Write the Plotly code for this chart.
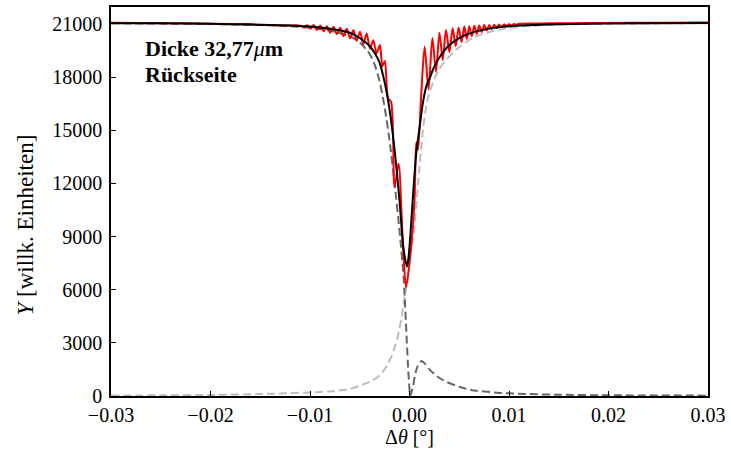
import plotly.graph_objects as go

# ---------------- data ----------------
red_x = [-0.030, -0.025, -0.020, -0.016, -0.014, -0.0125,
         -0.01093, -0.01061, -0.01028, -0.00996, -0.00963, -0.0093, -0.00896, -0.00864,
         -0.00831, -0.00797, -0.00764, -0.00731, -0.00697, -0.00664, -0.00631, -0.00597,
         -0.00564, -0.00531, -0.00497, -0.00464, -0.00431, -0.00397, -0.00364, -0.00331,
         -0.00297, -0.00273, -0.00248, -0.00215, -0.00185, -0.0015, -0.0011, -0.0007, -0.00035,
         0.0000, 0.0005, 0.00068, 0.00085, 0.00115,
         0.00152, 0.00191, 0.0023, 0.00266, 0.00301, 0.00334, 0.00367, 0.00401, 0.00434,
         0.00464, 0.00494, 0.00523, 0.00551, 0.00576, 0.00601, 0.00626, 0.00651, 0.00676,
         0.00701, 0.00726, 0.00751, 0.00776, 0.00801, 0.00826, 0.00851, 0.00876, 0.0090,
         0.00925, 0.0095, 0.00975, 0.0100, 0.01025, 0.0105, 0.01075, 0.0110,
         0.013, 0.016, 0.020, 0.025, 0.030]
red_y = [21060, 21040, 21010, 20970, 20930, 20900,
         20900, 20800, 20920, 20720, 20930, 20650, 20900, 20580,
         20870, 20500, 20830, 20420, 20780, 20300, 20720, 20180,
         20650, 20050, 20560, 19850, 20460, 19600, 20080, 19330,
         19800, 18600, 18900, 16800, 16600, 11800, 13100, 9000, 6140,
         7500, 11000, 14300, 13900, 16700,
         19700, 17300, 20200, 18300, 20500, 18950, 20650, 19400, 20750,
         19750, 20800, 19980, 20850, 20150, 20870, 20300, 20890, 20430,
         20910, 20540, 20930, 20630, 20940, 20700, 20950, 20760, 20960,
         20820, 20970, 20870, 20980, 20910, 20990, 20950, 21000,
         21020, 21040, 21050, 21060, 21070]

fit_x = [-0.030, -0.025, -0.020, -0.016, -0.012, -0.010, -0.008, -0.006, -0.005, -0.004,
         -0.0035, -0.003, -0.0025, -0.002, -0.0015, -0.001, -0.0006, -0.00025, -0.0001,
         0.0001, 0.0004, 0.0007, 0.001, 0.00135, 0.0017, 0.002, 0.0025, 0.003, 0.004,
         0.005, 0.006, 0.008, 0.010, 0.015, 0.020, 0.030]
fit_y = [21040, 21030, 21000, 20960, 20900, 20850, 20720, 20500, 20200, 19750,
         19350, 18800, 17700, 16150, 13900, 11000, 8300, 7300, 7800,
         9200, 11700, 13800, 15100, 16550, 17500, 17900, 18600, 19100, 19800,
         20200, 20450, 20730, 20870, 20980, 21020, 21050]

comp1_x = [-0.030, -0.020, -0.015, -0.012, -0.010, -0.008, -0.006, -0.005, -0.004, -0.0035,
           -0.003, -0.0025, -0.002, -0.0015, -0.001, -0.0006, -0.0003, -0.0001, 0.00008,
           0.0002, 0.00035, 0.0006, 0.0009, 0.0012, 0.0016, 0.002, 0.0028, 0.0037, 0.005,
           0.0062, 0.0088, 0.012, 0.015, 0.020, 0.030]
comp1_y = [21030, 20990, 20930, 20860, 20780, 20620, 20300, 19950, 19300, 18700,
           17750, 16300, 14400, 12000, 9300, 6800, 3400, 1200, 0,
           200, 520, 1300, 1800, 1980, 1800, 1500, 1100, 800, 520,
           340, 185, 110, 70, 40, 20]

comp2_x = [-0.030, -0.025, -0.020, -0.015, -0.012, -0.010, -0.008, -0.006, -0.0048, -0.004,
           -0.00315, -0.0025, -0.00215, -0.0018, -0.00148, -0.0012, -0.00098, -0.0008,
           -0.00065, -0.0005, -0.00032, -0.0001, 0.0001, 0.0004, 0.00085, 0.00135, 0.0017,
           0.002, 0.0025, 0.003, 0.0035, 0.0048, 0.0065, 0.0092, 0.012, 0.015, 0.020, 0.030]
comp2_y = [25, 40, 60, 110, 160, 200, 260, 400, 620, 800,
           1085, 1500, 1835, 2250, 2770, 3300, 3890, 4400,
           5010, 5500, 6140, 7000, 8000, 9000, 11940, 15000, 16400,
           17100, 17900, 18450, 18850, 19600, 20250, 20700, 20880, 20960, 21010, 21040]

x_ticks = [-0.03, -0.02, -0.01, 0.0, 0.01, 0.02, 0.03]
x_tick_labels = ["\u22120.03", "\u22120.02", "\u22120.01", "0.00", "0.01", "0.02", "0.03"]
y_ticks = [0, 3000, 6000, 9000, 12000, 15000, 18000, 21000]
y_tick_labels = ["0", "3000", "6000", "9000", "12000", "15000", "18000", "21000"]

FONT = "Liberation Serif"

fig = go.Figure()
fig.add_trace(go.Scatter(x=comp2_x, y=comp2_y, mode="lines",
                         line=dict(color="#bdbdbd", width=2, dash="8px,4px", shape="spline", smoothing=0.6),
                         showlegend=False))
fig.add_trace(go.Scatter(x=comp1_x, y=comp1_y, mode="lines",
                         line=dict(color="#666666", width=2, dash="8px,4px", shape="spline", smoothing=0.6),
                         showlegend=False))
fig.add_trace(go.Scatter(x=red_x, y=red_y, mode="lines",
                         line=dict(color="#ff0000", width=2, shape="spline", smoothing=0.8),
                         showlegend=False))
fig.add_trace(go.Scatter(x=fit_x, y=fit_y, mode="lines",
                         line=dict(color="#000000", width=2, shape="spline", smoothing=0.8),
                         showlegend=False))

fig.update_xaxes(range=[-0.03, 0.03], tickvals=x_ticks, ticktext=x_tick_labels,
                 ticks="inside", ticklen=5, tickwidth=1, tickcolor="black",
                 showline=True, linecolor="black", linewidth=1.5, mirror=True,
                 showgrid=False, zeroline=False,
                 tickfont=dict(family=FONT, size=20, color="black"))
fig.update_yaxes(range=[0, 21950], tickvals=y_ticks, ticktext=y_tick_labels,
                 ticks="inside", ticklen=5, tickwidth=1, tickcolor="black",
                 showline=True, linecolor="black", linewidth=1.5, mirror=True,
                 showgrid=False, zeroline=False, ticklabelstandoff=3,
                 tickfont=dict(family=FONT, size=20, color="black"))

annos = [
    dict(text="<b>Dicke 32,77</b><i>\u03bc</i><b>m</b>", x=0.053, y=0.8926, xanchor="left", yanchor="middle",
         font=dict(family=FONT, size=22, color="black")),
    dict(text="<b>R\u00fcckseite</b>", x=0.053, y=0.826, xanchor="left", yanchor="middle",
         font=dict(family=FONT, size=22, color="black")),
    dict(text="\u0394<i>\u03b8</i> [\u00b0]", x=0.5, y=-0.105, xanchor="center", yanchor="middle",
         font=dict(family=FONT, size=20, color="black")),
    dict(text="<i>Y</i> [willk. Einheiten]", x=-0.143, y=0.44, xanchor="center", yanchor="middle",
         textangle=-90, font=dict(family=FONT, size=23, color="black")),
]
for a in annos:
    a.update(xref="paper", yref="paper", showarrow=False)
    fig.add_annotation(**a)

fig.update_layout(width=731, height=454, margin=dict(l=111, r=19, t=5, b=58),
                  plot_bgcolor="white", paper_bgcolor="white",
                  font=dict(family=FONT, color="black"))

fig.write_html("out.html")
